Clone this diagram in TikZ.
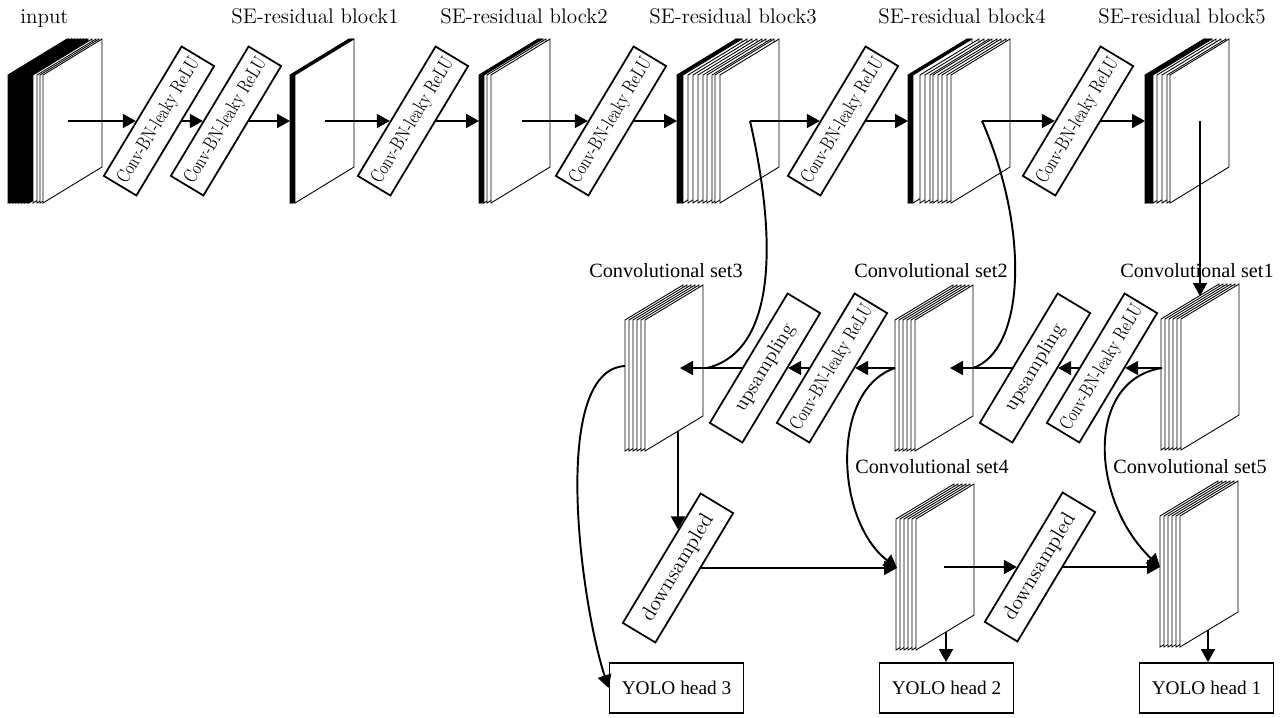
\documentclass[tikz,border=0pt]{standalone}
\usepackage{fontspec}
\newfontfamily\timesfont{Liberation Serif}
\usetikzlibrary{arrows.meta,positioning}

% one stack of feature maps: x of the back sheet, top y, dark sheet offsets, white sheet offsets
\newcommand{\fmap}[4]{%
  \foreach \sh in {#3}{
    \draw[sheet, fill=black] ({#1+\sh},#2) -- ++(\mapw,-\maps) -- ++(0,\maph) -- ++(-\mapw,\maps) -- cycle;
  }
  \foreach \sh in {#4}{
    \draw[sheet] ({#1+\sh},#2) -- ++(\mapw,-\maps) -- ++(0,\maph) -- ++(-\mapw,\maps) -- cycle;
  }}
\newcommand{\cbrtext}{\scalebox{0.79}[1]{Conv-BN-leaky ReLU}}

\tikzset{
  sheet/.style={fill=white, draw=black, line width=0.5pt},
  arr/.style={line width=1.1pt, -{Triangle[length=0.26cm,width=0.28cm]}},
  link/.style={line width=1.1pt},
  opbox/.style={draw, line width=1pt, fill=white, inner sep=0pt, minimum width=3.02cm, minimum height=0.76cm},
  cbr/.style={opbox, font=\fontsize{11}{13}\selectfont},
  upbox/.style={opbox, font=\fontsize{11.5}{13}\selectfont},
  dsbox/.style={opbox, font=\fontsize{12}{14}\selectfont},
  headbox/.style={draw, line width=1.1pt, inner sep=0pt, minimum width=2.68cm, minimum height=1cm, font=\timesfont\fontsize{11}{13}\selectfont},
  toplabel/.style={font=\fontsize{12}{14}\selectfont, anchor=base},
  setlabel/.style={font=\timesfont\fontsize{11.5}{13}\selectfont, anchor=base},
}

\begin{document}
\begin{tikzpicture}[x=0.02cm, y=-0.02cm]
\useasboundingbox (0,0) rectangle (1281,717);

% Draw the backbone stacks
\def\mapw{59}\def\maph{128}\def\maps{36}
\fmap{8}{75}{0,1.5,...,21}{25,29,32,35}
\fmap{290}{75}{0,1,...,4}{5}
\fmap{479}{75}{0,1,...,4}{5,8,12}
\fmap{677}{75}{0,1,...,5}{6,11,16,21,26,30,35,38,43}
\fmap{908}{75}{0,1,...,4}{5,12,17,22,25,30,34,39,43}
\fmap{1145}{75}{0,1,...,7}{8,12,17,22,25}

% Draw the convolutional sets
\def\mapw{58}\def\maph{131}\def\maps{35}
\fmap{625}{320}{}{0,4,...,20}
\fmap{895}{320}{}{0,4,...,20}
\fmap{1161}{319}{}{0,4,...,20}
\fmap{896}{519}{}{0,4,...,20}
\fmap{1160}{516}{}{0,4,...,20}

\coordinate (in-o) at (68,121);
\coordinate (b1-w) at (290,121);
\coordinate (b1-o) at (325,121);
\coordinate (b2-w) at (479,121);
\coordinate (b2-o) at (522,121);
\coordinate (b3-w) at (677,121);
\coordinate (b3-o) at (750,121);
\coordinate (b4-w) at (908,121);
\coordinate (b4-o) at (982,121);
\coordinate (b5-w) at (1145,121);
\coordinate (b5-o) at (1200,121);
\coordinate (s1-n) at (1200,296);
\coordinate (s1-o) at (1162,368);
\coordinate (s2-in) at (950,368);
\coordinate (s2-o) at (895,368);
\coordinate (j2) at (973,368);
\coordinate (s3-in) at (680,368);
\coordinate (s3-o) at (625,366);
\coordinate (j3) at (707,368);
\coordinate (s3-s) at (678,431);
\coordinate (s4-w) at (897,568);
\coordinate (s4-o) at (944,567);
\coordinate (s4-s) at (946,632);
\coordinate (s5-w) at (1160,567);
\coordinate (s5-s) at (1208,630);

% labels
\node[anchor=base west, inner sep=0pt, font=\fontsize{12}{14}\selectfont] (lin) at (20,23) {input};
\node[toplabel] (lb1) at (315,23) {SE-residual block1};
\node[toplabel] (lb2) at (524,23) {SE-residual block2};
\node[toplabel] (lb3) at (733,23) {SE-residual block3};
\node[toplabel] (lb4) at (962,23) {SE-residual block4};
\node[toplabel] (lb5) at (1182,23) {SE-residual block5};
\node[setlabel] (ls3) at (666,277) {Convolutional set3};
\node[setlabel] (ls2) at (931,277) {Convolutional set2};
\node[setlabel] (ls1) at (1197,277) {Convolutional set1};
\node[setlabel] (ls4) at (932,473) {Convolutional set4};
\node[setlabel] (ls5) at (1190,473) {Convolutional set5};

% operation boxes
\node[cbr, rotate=59] (cb1) at (159,121) {\cbrtext};
\node[cbr, rotate=59] (cb2) at (226,121) {\cbrtext};
\node[cbr, rotate=59] (cb3) at (413,121) {\cbrtext};
\node[cbr, rotate=59] (cb4) at (611,121) {\cbrtext};
\node[cbr, rotate=59] (cb5) at (843,121) {\cbrtext};
\node[cbr, rotate=59] (cb6) at (1078,121) {\cbrtext};
\node[cbr, rotate=59] (cm2) at (1102,368) {\cbrtext};
\node[upbox, rotate=59] (up2) at (1035,368) {upsampling};
\node[cbr, rotate=59] (cm1) at (832,368) {\cbrtext};
\node[upbox, rotate=59] (up1) at (765,368) {upsampling};
\node[dsbox, rotate=59] (ds1) at (678,568) {downsampled};
\node[dsbox, rotate=59] (ds2) at (1040,567) {downsampled};

% heads
\node[headbox] (h3) at (676.5,688) {YOLO head 3};
\node[headbox] (h2) at (946.5,688) {YOLO head 2};
\node[headbox] (h1) at (1206.5,688) {YOLO head 1};

% backbone arrows
\draw[arr] (in-o) -- (cb1);
\draw[arr] (cb1) -- (cb2);
\draw[arr] (cb2) -- (b1-w);
\draw[arr] (b1-o) -- (cb3);
\draw[arr] (cb3) -- (b2-w);
\draw[arr] (b2-o) -- (cb4);
\draw[arr] (cb4) -- (b3-w);
\draw[arr] (b3-o) -- (cb5);
\draw[arr] (cb5) -- (b4-w);
\draw[arr] (b4-o) -- (cb6);
\draw[arr] (cb6) -- (b5-w);
\draw[arr] (b5-o) -- (s1-n);

% upsampling path
\draw[arr] (s1-o) -- (cm2);
\draw[arr] (cm2) -- (up2);
\draw[arr] (up2) -- (s2-in);
\draw[arr] (s2-o) -- (cm1);
\draw[arr] (cm1) -- (up1);
\draw[arr] (up1) -- (s3-in);
\draw[link] (b3-o) .. controls (775,230) and (780,350) .. (j3);
\draw[link] (b4-o) .. controls (1030,230) and (1025,350) .. (j2);

% downsampling path
\draw[arr] (s3-s) -- (ds1);
\draw[arr] (ds1) -- (s4-w);
\draw[arr] (s4-o) -- (ds2);
\draw[arr] (ds2) -- (s5-w);
\draw[arr] (s2-o) .. controls (830,390) and (835,520) .. (s4-w);
\draw[arr] (s1-o) .. controls (1085,380) and (1090,500) .. (s5-w);
\draw[arr] (s3-o) .. controls (550,370) and (580,600) .. (h3.west);
\draw[arr] (s4-s) -- (s4-s |- h2.north);
\draw[arr] (s5-s) -- (s5-s |- h1.north);
\end{tikzpicture}
\end{document}
